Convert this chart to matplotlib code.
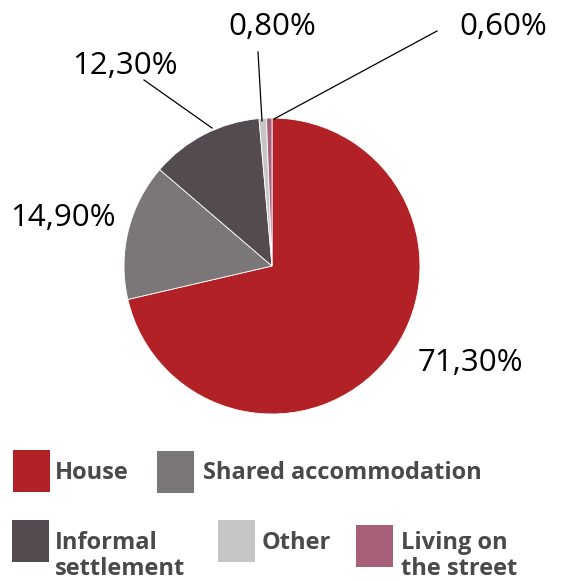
import matplotlib.pyplot as plt
from matplotlib.patches import Rectangle

# Data
categories = ["House", "Shared accommodation", "Informal settlement", "Other", "Living on the street"]
legend_labels = [["House"], ["Shared accommodation"], ["Informal", "settlement"], ["Other"], ["Living on", "the street"]]
values = [71.3, 14.9, 12.3, 0.8, 0.6]
pct_labels = ["71,30%", "14,90%", "12,30%", "0,80%", "0,60%"]
colors = ["#b22126", "#7b7778", "#544b50", "#c6c6c6", "#a8607a"]

W, H = 571, 581
fig = plt.figure(figsize=(W / 100, H / 100), dpi=100)
ax = fig.add_axes([0, 0, 1, 1])

cx, cy, r = 272, H - 266, 148
ax.pie(values, colors=colors, startangle=90, counterclock=False,
       center=(cx, cy), radius=r, frame=True,
       wedgeprops=dict(linewidth=0.6, edgecolor="white"))
ax.set_xlim(0, W)
ax.set_ylim(0, H)
ax.set_aspect("equal")
ax.axis("off")

# percentage labels (pixel positions from top)
label_pos = [(470, 363), (63, 218), (125, 66), (272, 27), (503, 27)]
for txt, (x, y) in zip(pct_labels, label_pos):
    ax.text(x, H - y, txt, ha="center", va="center", fontsize=22.5,
            family="Open Sans", color="black")

# leader lines
leaders = [((144, 80), (212, 128)), ((258, 52), (262, 121)), ((437, 31), (274, 119))]
for (x0, y0), (x1, y1) in leaders:
    ax.plot([x0, x1], [H - y0, H - y1], color="black", lw=0.9)

# legend: square x, square top y, text x, first baseline y
legend_items = [
    (13, 450, 55, 479),
    (157, 451, 203, 479),
    (12, 520, 55, 549),
    (218, 520, 262, 549),
    (356, 525, 401, 549),
]
for (sx, sy, tx, by), lines, col in zip(legend_items, legend_labels, colors):
    ax.add_patch(Rectangle((sx, H - sy - 42), 37, 42, facecolor=col, edgecolor="none"))
    for i, line in enumerate(lines):
        ax.text(tx, H - by - 26 * i, line, ha="left", va="baseline", fontsize=17,
                family="Open Sans", fontweight="bold", color="#4a4a4a")

fig.savefig("out.png", dpi=100)
